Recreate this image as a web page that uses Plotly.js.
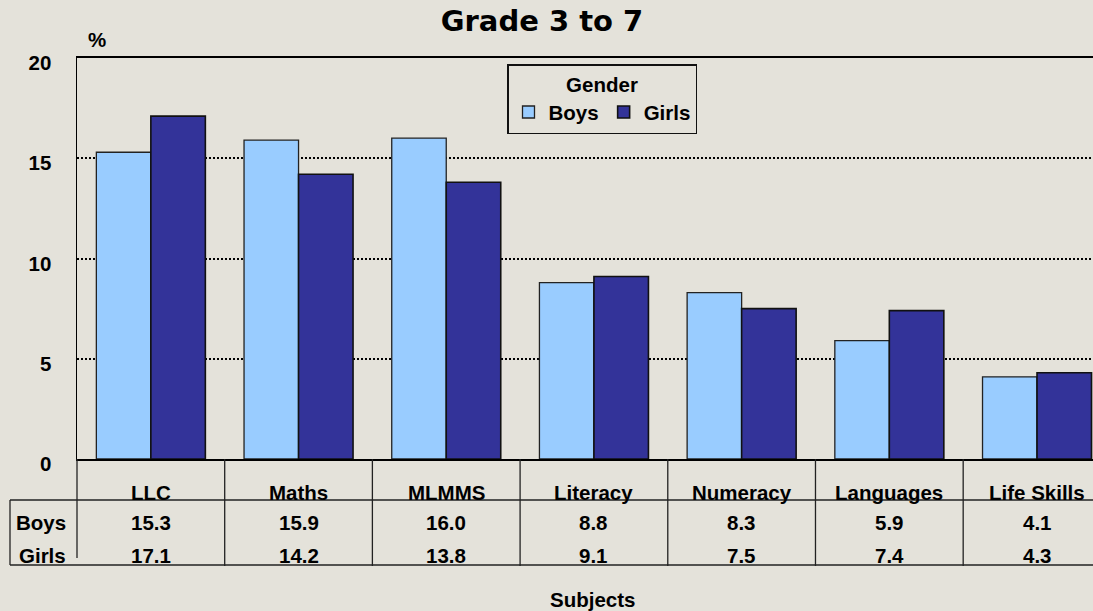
<!DOCTYPE html>
<html>
<head>
<meta charset="utf-8">
<script src="https://cdn.plot.ly/plotly-3.0.1.min.js"></script>
<style>
  html, body { margin: 0; padding: 0; background: #e4e2da; overflow: hidden; }
  #chart { width: 1093px; height: 611px; }
</style>
</head>
<body>
<div id="chart"></div>
<script>
const subjects = ["LLC", "Maths", "MLMMS", "Literacy", "Numeracy", "Languages", "Life Skills"];
const boys = [15.3, 15.9, 16.0, 8.8, 8.3, 5.9, 4.1];
const girls = [17.1, 14.2, 13.8, 9.1, 7.5, 7.4, 4.3];
const yTicks = [0, 5, 10, 15, 20];

const font = { family: "Liberation Sans, Arial, sans-serif", size: 20.5, color: "#000", weight: "bold" };

// plot area in pixels: left 77, top 58, bottom 459, right cut at 1093
const py = (px) => (459 - px) / 401;
const pxX = (px) => (px - 77) / 1016;

const traces = [
  {
    type: "bar", name: "Boys", x: subjects.map((s, i) => i), y: boys,
    marker: { color: "#99ccff", line: { color: "#222", width: 1.3 } },
    hoverinfo: "y",
  },
  {
    type: "bar", name: "Girls", x: subjects.map((s, i) => i), y: girls,
    marker: { color: "#333399", line: { color: "#111", width: 1.6 } },
    hoverinfo: "y",
  },
];

// data table under the chart
const shapes = [];
const line = { color: "#222", width: 1.3 };
shapes.push({ type: "line", xref: "paper", yref: "paper", x0: pxX(10), x1: 1, y0: py(500), y1: py(500), line });
shapes.push({ type: "line", xref: "paper", yref: "paper", x0: pxX(10), x1: 1, y0: py(565), y1: py(565), line });
shapes.push({ type: "line", xref: "paper", yref: "paper", x0: pxX(10), x1: pxX(10), y0: py(500), y1: py(565), line });
shapes.push({ type: "line", xref: "paper", yref: "paper", x0: 0, x1: 0, y0: 0, y1: py(558), line });
for (let i = 0; i < subjects.length - 1; i++) {
  shapes.push({ type: "line", xref: "x", yref: "paper", x0: i + 0.5, x1: i + 0.5, y0: 0, y1: py(566), line });
}

const annotations = [];
subjects.forEach((s, i) => {
  annotations.push({ xref: "x", yref: "paper", x: i, y: py(492), text: s, showarrow: false, font, yanchor: "middle" });
  annotations.push({ xref: "x", yref: "paper", x: i, y: py(522), text: boys[i].toFixed(1), showarrow: false, font, yanchor: "middle" });
  annotations.push({ xref: "x", yref: "paper", x: i, y: py(555), text: girls[i].toFixed(1), showarrow: false, font, yanchor: "middle" });
});
annotations.push({ xref: "paper", yref: "paper", x: pxX(68), y: py(522), text: "Boys", showarrow: false, font, xanchor: "right", yanchor: "middle" });
annotations.push({ xref: "paper", yref: "paper", x: pxX(68), y: py(555), text: "Girls", showarrow: false, font, xanchor: "right", yanchor: "middle" });
annotations.push({ xref: "paper", yref: "paper", x: pxX(592), y: py(599), text: "Subjects", showarrow: false, font, yanchor: "middle" });
annotations.push({ xref: "paper", yref: "paper", x: pxX(86), y: py(40), text: "%", showarrow: false, font, yanchor: "middle" });

const layout = {
  width: 1093, height: 611,
  margin: { l: 77, r: 0, t: 58, b: 152, pad: 0 },
  paper_bgcolor: "#e4e2da",
  plot_bgcolor: "#e4e2da",
  font,
  title: {
    text: "Grade 3 to 7",
    font: { family: "Comic Sans MS, DejaVu Sans, sans-serif", size: 29, color: "#000", weight: "bold" },
    x: 542 / 1093, xanchor: "center", xref: "container",
    y: 1 - 21 / 611, yanchor: "middle", yref: "container",
  },
  barmode: "group",
  bargap: 0.262,
  bargroupgap: 0,
  showlegend: true,
  legend: {
    orientation: "h",
    x: pxX(507), y: py(64), xanchor: "left", yanchor: "top",
    bgcolor: "rgba(0,0,0,0)", bordercolor: "#111", borderwidth: 1.5,
    font,
    title: { text: "Gender", side: "top center", font },
    itemwidth: 30,
    tracegroupgap: 0,
  },
  xaxis: {
    range: [-0.5, 6.379],
    showticklabels: false, ticks: "",
    showgrid: false, zeroline: false,
    showline: true, linecolor: "#000", linewidth: 2, mirror: true,
    fixedrange: true,
  },
  yaxis: {
    range: [0, 20], tickvals: yTicks,
    ticks: "", ticklabelstandoff: 20, ticklabelshift: 5,
    showgrid: true, gridcolor: "#000", gridwidth: 2, griddash: "2px,2px",
    zeroline: false,
    showline: true, linecolor: "#000", linewidth: 1.5,
    tickfont: font,
    fixedrange: true,
  },
  shapes,
  annotations,
};

Plotly.newPlot("chart", traces, layout, { displayModeBar: false, staticPlot: true });
</script>
</body>
</html>
